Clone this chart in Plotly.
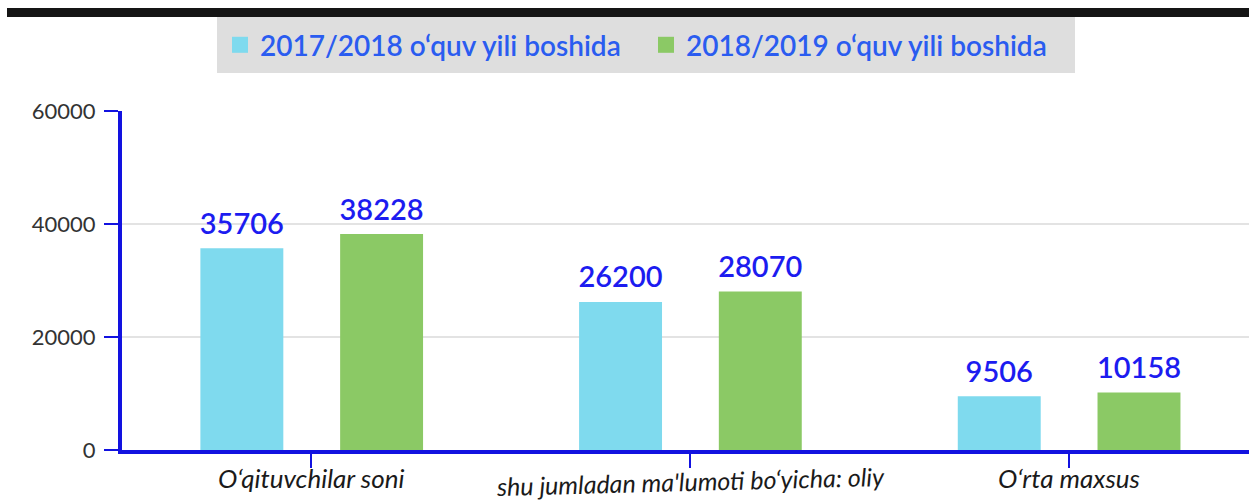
import plotly.graph_objects as go

categories = ["O‘qituvchilar soni", "shu jumladan ma'lumoti bo‘yicha: oliy", "O‘rta maxsus"]
series_names = ["2017/2018 o‘quv yili boshida", "2018/2019 o‘quv yili boshida"]
values_2017 = [35706, 26200, 9506]
values_2018 = [38228, 28070, 10158]
y_ticks = [0, 20000, 40000, 60000]

colors = ["#7fdaee", "#8bc965"]
label_blue = "#1c1cf0"
axis_blue = "#1212e0"
bar_width = 0.219
offsets = [-0.293, 0.076]
label_dy = [-10, -9, -10]
label_angle = [0, -1.5, 0]

xpos = list(range(len(categories)))
fig = go.Figure()
for vals, name, col, off in zip([values_2017, values_2018], series_names, colors, offsets):
    fig.add_trace(go.Bar(x=xpos, y=vals, name=name, marker=dict(color=col, line=dict(width=0)),
                         width=bar_width, offset=off, showlegend=False, hoverinfo="skip"))
    fig.add_trace(go.Scatter(x=[p + off + bar_width / 2 for p in xpos], y=vals, mode="text+markers",
                             marker=dict(size=10, opacity=0), text=[str(v) for v in vals],
                             textposition="top center", showlegend=False, cliponaxis=False,
                             hoverinfo="skip",
                             textfont=dict(family="Lato", size=29, color=label_blue, weight=600)))
    fig.add_trace(go.Scatter(x=[None], y=[None], mode="markers", name=name,
                             marker=dict(symbol="square", size=24, color=col)))

for i, cat in enumerate(categories):
    fig.add_annotation(x=xpos[i], xref="x", y=0, yref="paper", yanchor="top", showarrow=False,
                       yshift=label_dy[i], textangle=label_angle[i], text=cat,
                       font=dict(family="Lato", size=26 if i != 1 else 25, color="#1a1a1a", style="italic"))

fig.add_shape(type="rect", xref="paper", yref="paper", xsizemode="pixel", ysizemode="pixel",
              xanchor=0, yanchor=1, x0=-115, x1=1140, y0=94, y1=103,
              fillcolor="#151515", line=dict(width=0), layer="above")

fig.update_layout(
    width=1249, height=502,
    margin=dict(l=122, r=0, t=111, b=52, autoexpand=False),
    plot_bgcolor="white", paper_bgcolor="white",
    barmode="overlay",
    legend=dict(orientation="h", x=0.0843, xanchor="left", y=1.277, yanchor="top",
                bgcolor="#dedede", bordercolor="#dedede", borderwidth=3,
                font=dict(family="Lato", size=28, color="#2a5cf0", weight=600),
                itemsizing="trace", entrywidth=381),
    xaxis=dict(range=[-0.5, 2.476], tickvals=xpos, ticktext=["" for _ in categories],
               showline=True, linecolor=axis_blue, linewidth=4, showgrid=False, zeroline=False,
               ticks="outside", ticklen=14, tickwidth=1.5, tickcolor=axis_blue),
    yaxis=dict(range=[0, 60000], tickvals=y_ticks, tickformat="d", showline=True, linecolor=axis_blue,
               linewidth=4, showgrid=True, gridcolor="#e3e3e3", gridwidth=1.5, zeroline=False,
               ticks="outside", ticklen=14, tickwidth=2, tickcolor=axis_blue, ticklabelstandoff=4,
               tickfont=dict(family="Lato", size=22, color="#333333")),
)

fig.write_html("out.html", config={"displayModeBar": False},
               post_script="document.body.style.margin='0';document.body.style.overflow='hidden';")
